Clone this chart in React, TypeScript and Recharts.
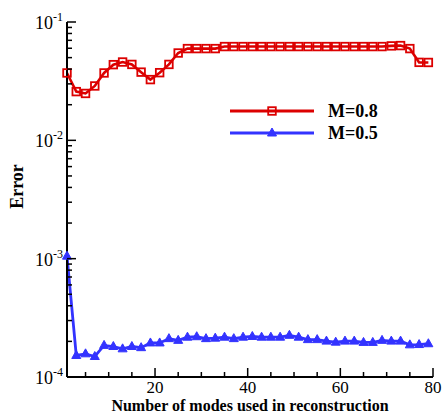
import React from 'react';
import { LineChart, Line, XAxis, YAxis, Legend } from 'recharts';

const modes = [1, 3, 5, 7, 9, 11, 13, 15, 17, 19, 21, 23, 25, 27, 29, 31, 33, 35, 37, 39,
  41, 43, 45, 47, 49, 51, 53, 55, 57, 59, 61, 63, 65, 67, 69, 71, 73, 75, 77, 79];

const errorM08 = [0.0371, 0.0258, 0.0249, 0.0288, 0.0371, 0.0436, 0.0459, 0.0438, 0.0377, 0.0326,
  0.0373, 0.0438, 0.0547, 0.0596, 0.0596, 0.0596, 0.0596, 0.0620, 0.0620, 0.0620,
  0.0620, 0.0620, 0.0620, 0.0620, 0.0620, 0.0620, 0.0620, 0.0620, 0.0620, 0.0620,
  0.0620, 0.0620, 0.0620, 0.0620, 0.0620, 0.0628, 0.0632, 0.0596, 0.0456, 0.0455];

const errorM05 = [1.05e-3, 1.52e-4, 1.57e-4, 1.49e-4, 1.85e-4, 1.81e-4, 1.73e-4, 1.81e-4, 1.77e-4, 1.94e-4,
  1.94e-4, 2.11e-4, 2.04e-4, 2.17e-4, 2.19e-4, 2.11e-4, 2.13e-4, 2.17e-4, 2.11e-4, 2.17e-4,
  2.20e-4, 2.17e-4, 2.17e-4, 2.17e-4, 2.25e-4, 2.17e-4, 2.07e-4, 2.07e-4, 2.01e-4, 1.97e-4,
  2.01e-4, 2.01e-4, 1.96e-4, 1.96e-4, 2.04e-4, 2.01e-4, 2.01e-4, 1.87e-4, 1.88e-4, 1.91e-4];

const seriesNames = ['M=0.8', 'M=0.5'];
const xTicks = [5, 10, 15, 20, 25, 30, 35, 40, 45, 50, 55, 60, 65, 70, 75, 80];
const xTickLabels = ['20', '40', '60', '80'];
const yDecades = [1e-4, 1e-3, 1e-2, 1e-1];
const yExponentLabels = ['-4', '-3', '-2', '-1'];
const yMinorMultipliers = [2, 3, 4, 5, 6, 7, 8, 9];

const RED = '#dc0000';
const BLUE = '#3333ff';
const FONT = '"Liberation Serif", "Times New Roman", serif';

const data = modes.map((m, i) => ({ mode: m, m08: errorM08[i], m05: errorM05[i] }));

const yTicks: number[] = [];
yDecades.forEach((d, i) => {
  yTicks.push(d);
  if (i < yDecades.length - 1) yMinorMultipliers.forEach((k) => yTicks.push(k * d));
});

const findDecade = (v: number) =>
  yDecades.findIndex((d) => Math.abs(v - d) / d < 1e-6);

const YTick = (props: any) => {
  const { x, y, payload } = props;
  const idx = findDecade(payload.value);
  const major = idx >= 0;
  return (
    <g>
      <line x1={x} x2={x + (major ? 9 : 5)} y1={y} y2={y} stroke="#000" strokeWidth={1.5} />
      {major && (
        <text x={x - 4} y={y + 7} textAnchor="end" fontFamily={FONT} fontSize={18} fill="#000">
          <tspan>10</tspan>
          <tspan dy={-8} fontSize={12}>{yExponentLabels[idx]}</tspan>
        </text>
      )}
    </g>
  );
};

const XTick = (props: any) => {
  const { x, y, payload } = props;
  const label = xTickLabels.find((l) => Number(l) === payload.value);
  return (
    <g>
      <line x1={x} x2={x} y1={y} y2={y - (label ? 9 : 5)} stroke="#000" strokeWidth={1.5} />
      {label && (
        <text x={x} y={y + 16} textAnchor="middle" fontFamily={FONT} fontSize={17} fill="#000">
          {label}
        </text>
      )}
    </g>
  );
};

const SquareDot = (props: any) => {
  const { cx, cy, index } = props;
  if (cx == null || cy == null) return <g key={`s${index}`} />;
  return (
    <rect key={`s${index}`} x={cx - 3.8} y={cy - 3.8} width={7.6} height={7.6}
      fill="none" stroke={RED} strokeWidth={1.8} />
  );
};

const TriangleDot = (props: any) => {
  const { cx, cy, index } = props;
  if (cx == null || cy == null) return <g key={`t${index}`} />;
  return (
    <path key={`t${index}`} d={`M${cx},${cy - 5} L${cx + 4.5},${cy + 3} L${cx - 4.5},${cy + 3} Z`}
      fill={BLUE} stroke={BLUE} strokeWidth={1} />
  );
};

const XTitle = (props: any) => {
  const vb = props.viewBox || { x: 67, y: 377, width: 366, height: 37 };
  return (
    <text x={vb.x + vb.width / 2} y={vb.y + 34} textAnchor="middle" fontFamily={FONT}
      fontWeight="bold" fontSize={16} fill="#000">
      Number of modes used in reconstruction
    </text>
  );
};

const YTitle = (props: any) => {
  const vb = props.viewBox || { x: 0, y: 22, width: 67, height: 355 };
  const cx = vb.x + 23;
  const cy = vb.y + vb.height / 2 - 13;
  return (
    <text x={cx} y={cy} textAnchor="middle" transform={`rotate(-90 ${cx} ${cy})`}
      fontFamily={FONT} fontWeight="bold" fontSize={18} fill="#000">
      Error
    </text>
  );
};

const LegendContent = () => {
  const rows = [
    { name: seriesNames[0], color: RED, shape: 'square' },
    { name: seriesNames[1], color: BLUE, shape: 'triangle' },
  ];
  return (
    <svg width={170} height={50} style={{ overflow: 'visible', display: 'block' }}>
      {rows.map((r, i) => {
        const y = 13 + i * 22;
        return (
          <g key={r.name}>
            <line x1={0} x2={84} y1={y} y2={y} stroke={r.color} strokeWidth={3} />
            {r.shape === 'square' ? (
              <rect x={38.2} y={y - 3.8} width={7.6} height={7.6} fill="none" stroke={r.color} strokeWidth={1.8} />
            ) : (
              <path d={`M42,${y - 5} L46.5,${y + 3} L37.5,${y + 3} Z`} fill={r.color} stroke={r.color} />
            )}
            <text x={98} y={y + 6} fontFamily={FONT} fontWeight="bold" fontSize={18} fill="#000">
              {r.name}
            </text>
          </g>
        );
      })}
    </svg>
  );
};

export default function App() {
  return (
    <div style={{ position: 'absolute', left: 0, top: 0, width: 442, height: 414 }}>
      <LineChart width={442} height={414} data={data} margin={{ top: 22, right: 9, left: 0, bottom: 0 }}>
        <XAxis dataKey="mode" type="number" domain={[1, 80]} ticks={xTicks} interval={0}
          tickSize={0} tickMargin={0} tickLine={false} tick={<XTick />}
          axisLine={{ stroke: '#000', strokeWidth: 2 }} height={37} label={<XTitle />} />
        <YAxis type="number" scale="log" domain={[1e-4, 1e-1]} allowDataOverflow ticks={yTicks} interval={0}
          tickSize={0} tickMargin={0} tickLine={false} tick={<YTick />}
          axisLine={{ stroke: '#000', strokeWidth: 2 }} width={67} label={<YTitle />} />
        <Legend content={<LegendContent />} layout="horizontal" verticalAlign="middle" align="center"
          wrapperStyle={{ position: 'absolute', left: 230, top: 98, width: 170, height: 50 }} />
        <Line dataKey="m08" name={seriesNames[0]} stroke={RED} strokeWidth={2.6} dot={<SquareDot />}
          isAnimationActive={false} />
        <Line dataKey="m05" name={seriesNames[1]} stroke={BLUE} strokeWidth={2.8} dot={<TriangleDot />}
          isAnimationActive={false} />
      </LineChart>
    </div>
  );
}
